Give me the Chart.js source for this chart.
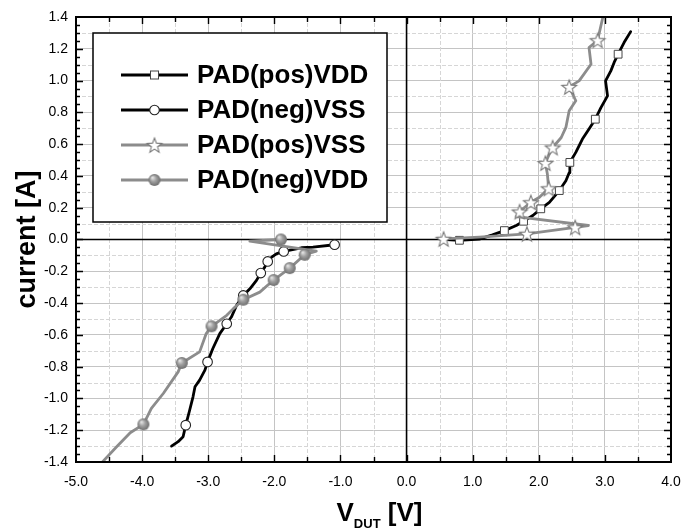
<!DOCTYPE html>
<html>
<head>
<meta charset="utf-8">
<script src="https://cdn.jsdelivr.net/npm/chart.js@4.4.0/dist/chart.umd.min.js"></script>
<style>
  html, body { margin: 0; padding: 0; background: #fff; }
  #wrap { width: 696px; height: 530px; }
</style>
</head>
<body>
<div id="wrap"><canvas id="ivChart" width="696" height="530"></canvas></div>
<script>
// === data: V_DUT [V] and current [A] ===
const posVddV = [0.60, 0.80, 1.10, 1.30, 1.48, 1.66, 1.77, 1.91, 2.03, 2.16, 2.31, 2.41, 2.46, 2.47, 2.56, 2.66, 2.76, 2.855, 2.94, 3.04, 3.01, 3.09, 3.14, 3.20, 3.29, 3.39];
const posVddI = [0.000, -0.005, 0.002, 0.029, 0.056, 0.088, 0.115, 0.151, 0.193, 0.234, 0.308, 0.370, 0.420, 0.485, 0.548, 0.632, 0.695, 0.757, 0.830, 0.904, 0.998, 1.061, 1.114, 1.166, 1.239, 1.308];
const posVddMarks = [1, 4, 6, 8, 10, 13, 17, 23];

const negVssV = [-1.088, -1.415, -1.59, -1.858, -1.97, -2.04, -2.10, -2.145, -2.205, -2.27, -2.37, -2.47, -2.57, -2.65, -2.72, -2.825, -2.93, -3.01, -3.05, -3.13, -3.20, -3.23, -3.28, -3.34, -3.38, -3.455, -3.555];
const negVssI = [-0.033, -0.048, -0.052, -0.075, -0.090, -0.111, -0.138, -0.174, -0.211, -0.257, -0.310, -0.352, -0.414, -0.488, -0.530, -0.592, -0.686, -0.770, -0.822, -0.885, -0.927, -0.990, -1.073, -1.168, -1.241, -1.272, -1.300];
const negVssMarks = [0, 3, 6, 8, 11, 14, 17, 23];

const posVssV = [0.56, 1.10, 1.82, 2.55, 2.75, 1.66, 1.71, 1.88, 2.01, 2.15, 2.13, 2.10, 2.16, 2.21, 2.34, 2.41, 2.46, 2.56, 2.46, 2.61, 2.79, 2.76, 2.89, 2.97];
const posVssI = [0.004, 0.015, 0.036, 0.077, 0.088, 0.144, 0.176, 0.234, 0.266, 0.322, 0.412, 0.481, 0.538, 0.579, 0.642, 0.705, 0.810, 0.873, 0.960, 0.998, 1.103, 1.207, 1.254, 1.400];
const posVssMarks = [0, 2, 3, 6, 7, 9, 11, 13, 18, 22];

const negVddV = [-1.90, -2.37, -1.365, -1.54, -1.767, -2.01, -2.22, -2.47, -2.62, -2.72, -2.95, -3.03, -3.13, -3.40, -3.455, -3.68, -3.86, -3.98, -4.18, -4.385, -4.61];
const negVddI = [0.000, -0.010, -0.073, -0.096, -0.180, -0.255, -0.331, -0.379, -0.435, -0.477, -0.546, -0.592, -0.707, -0.777, -0.833, -0.969, -1.063, -1.163, -1.216, -1.304, -1.404];
const negVddMarks = [0, 3, 4, 5, 7, 10, 13, 17];

const seriesLabels = ["PAD(pos)VDD", "PAD(neg)VSS", "PAD(pos)VSS", "PAD(neg)VDD"];
const xTickValues = [-5, -4, -3, -2, -1, 0, 1, 2, 3, 4];
const yTickValues = [-1.4, -1.2, -1.0, -0.8, -0.6, -0.4, -0.2, 0, 0.2, 0.4, 0.6, 0.8, 1.0, 1.2, 1.4];

const FONT = '"Liberation Sans", Arial, Helvetica, sans-serif';
const GRAY = "#8c8c8c";

function toPoints(xs, ys) {
  return xs.map((v, i) => ({ x: v, y: ys[i] }));
}

// white five-point star with gray outline
function makeStar(r) {
  const s = Math.ceil(r * 2 + 4);
  const c = document.createElement("canvas");
  c.width = c.height = s;
  const g = c.getContext("2d");
  g.translate(s / 2, s / 2 + 0.8);
  g.beginPath();
  for (let i = 0; i < 10; i++) {
    const rr = i % 2 ? r * 0.42 : r;
    const a = -Math.PI / 2 + i * Math.PI / 5;
    g.lineTo(rr * Math.cos(a), rr * Math.sin(a));
  }
  g.closePath();
  g.fillStyle = "#fff";
  g.fill();
  g.strokeStyle = "#777";
  g.lineWidth = 1.1;
  g.stroke();
  return c;
}

// shaded gray ball
function makeBall(r) {
  const s = Math.ceil(r * 2 + 2);
  const c = document.createElement("canvas");
  c.width = c.height = s;
  const g = c.getContext("2d");
  const cx = s / 2, cy = s / 2;
  const grad = g.createRadialGradient(cx - r * 0.35, cy - r * 0.4, r * 0.1, cx, cy, r);
  grad.addColorStop(0, "#e0e0e0");
  grad.addColorStop(0.45, "#a0a0a0");
  grad.addColorStop(1, "#6e6e6e");
  g.beginPath();
  g.arc(cx, cy, r, 0, Math.PI * 2);
  g.fillStyle = grad;
  g.fill();
  return c;
}

const starImg = makeStar(7.8);
const ballImg = makeBall(6);

function markAt(list, r) {
  return ctx => (list.includes(ctx.dataIndex) ? r : 0);
}

const datasets = [
  {
    label: seriesLabels[0],
    data: toPoints(posVddV, posVddI),
    borderColor: "#000", borderWidth: 2.8,
    pointStyle: "rect", pointRadius: markAt(posVddMarks, 5.5),
    pointBackgroundColor: "#fff", pointBorderColor: "#444", pointBorderWidth: 1,
    order: 2
  },
  {
    label: seriesLabels[1],
    data: toPoints(negVssV, negVssI),
    borderColor: "#000", borderWidth: 2.8,
    pointStyle: "circle", pointRadius: markAt(negVssMarks, 4.8),
    pointBackgroundColor: "#fff", pointBorderColor: "#222", pointBorderWidth: 1.1,
    order: 2
  },
  {
    label: seriesLabels[2],
    data: toPoints(posVssV, posVssI),
    borderColor: GRAY, borderWidth: 2.8,
    pointStyle: starImg, pointRadius: markAt(posVssMarks, 6),
    order: 1
  },
  {
    label: seriesLabels[3],
    data: toPoints(negVddV, negVddI),
    borderColor: GRAY, borderWidth: 2.8,
    pointStyle: ballImg, pointRadius: markAt(negVddMarks, 5),
    order: 1
  }
];
datasets.forEach(d => {
  d.showLine = true;
  d.tension = 0;
  d.fill = false;
  d.borderJoinStyle = "round";
  d.borderCapStyle = "round";
  d.pointHoverRadius = 0;
});

function fmt(v) {
  if (Math.abs(v) < 1e-9) return "0.0";
  return Number(v).toFixed(1);
}

// minor dashed grid, zero axes, inward ticks and the frame
const framePlugin = {
  id: "frame",
  beforeDatasetsDraw(chart) {
    const { ctx, chartArea: a, scales: { x, y } } = chart;
    ctx.save();
    ctx.strokeStyle = "#d6d6d6";
    ctx.lineWidth = 1;
    ctx.setLineDash([4, 2]);
    for (let k = 0; k < xTickValues.length - 1; k++) {
      const px = Math.round(x.getPixelForValue(xTickValues[k] + 0.5)) + 0.5;
      ctx.beginPath(); ctx.moveTo(px, a.top); ctx.lineTo(px, a.bottom); ctx.stroke();
    }
    for (let k = 0; k < yTickValues.length - 1; k++) {
      const py = Math.round(y.getPixelForValue(yTickValues[k] + 0.1)) + 0.5;
      ctx.beginPath(); ctx.moveTo(a.left, py); ctx.lineTo(a.right, py); ctx.stroke();
    }
    ctx.setLineDash([]);
    ctx.strokeStyle = "#000";
    ctx.lineWidth = 1.6;
    const x0 = x.getPixelForValue(0), y0 = y.getPixelForValue(0);
    ctx.beginPath(); ctx.moveTo(x0, a.top); ctx.lineTo(x0, a.bottom); ctx.stroke();
    ctx.beginPath(); ctx.moveTo(a.left, y0); ctx.lineTo(a.right, y0); ctx.stroke();
    ctx.restore();
  },
  afterDatasetsDraw(chart) {
    const { ctx, chartArea: a, scales: { x, y } } = chart;
    ctx.save();
    ctx.strokeStyle = "#000";
    ctx.lineWidth = 1.4;
    const xMin = xTickValues[0], yMin = yTickValues[0];
    const nx = (xTickValues.length - 1) * 2;
    for (let k = 1; k < nx; k++) {
      const px = Math.round(x.getPixelForValue(xMin + k * 0.5)) + 0.5;
      const len = k % 2 === 0 ? 7 : 5;
      ctx.beginPath();
      ctx.moveTo(px, a.bottom); ctx.lineTo(px, a.bottom - len);
      ctx.moveTo(px, a.top); ctx.lineTo(px, a.top + len);
      ctx.stroke();
    }
    const ny = (yTickValues.length - 1) * 4;
    for (let k = 1; k < ny; k++) {
      const py = Math.round(y.getPixelForValue(yMin + k * 0.05)) + 0.5;
      const len = k % 4 === 0 ? 7 : 4;
      ctx.beginPath();
      ctx.moveTo(a.left, py); ctx.lineTo(a.left + len, py);
      ctx.moveTo(a.right, py); ctx.lineTo(a.right - len, py);
      ctx.stroke();
    }
    ctx.lineWidth = 2;
    ctx.strokeRect(a.left, a.top, a.right - a.left, a.bottom - a.top);
    ctx.restore();
  }
};

// boxed legend inside the plot plus both axis titles
const legendPlugin = {
  id: "legendBox",
  afterDraw(chart) {
    const { ctx, chartArea: a } = chart;
    const bx = a.left + 17, by = a.top + 16, bw = 294, bh = 189;
    ctx.save();
    ctx.fillStyle = "#fff";
    ctx.fillRect(bx, by, bw, bh);
    ctx.strokeStyle = "#000";
    ctx.lineWidth = 1.5;
    ctx.strokeRect(bx, by, bw, bh);

    chart.data.datasets.forEach((ds, i) => {
      const yy = by + 42 + i * 35;
      const mx = bx + 61.5;
      ctx.strokeStyle = ds.borderColor;
      ctx.lineWidth = ds.borderWidth;
      ctx.beginPath(); ctx.moveTo(bx + 28, yy); ctx.lineTo(bx + 95, yy); ctx.stroke();
      const st = ds.pointStyle;
      if (typeof st === "object") {
        ctx.drawImage(st, mx - st.width / 2, yy - st.height / 2);
      } else if (st === "rect") {
        ctx.fillStyle = "#fff"; ctx.strokeStyle = ds.pointBorderColor; ctx.lineWidth = 1;
        ctx.fillRect(mx - 4, yy - 4, 8, 8); ctx.strokeRect(mx - 4, yy - 4, 8, 8);
      } else {
        ctx.fillStyle = "#fff"; ctx.strokeStyle = ds.pointBorderColor; ctx.lineWidth = 1.1;
        ctx.beginPath(); ctx.arc(mx, yy, 4.8, 0, Math.PI * 2); ctx.fill(); ctx.stroke();
      }
      ctx.fillStyle = "#000";
      ctx.font = "bold 26px " + FONT;
      ctx.textBaseline = "middle";
      ctx.textAlign = "left";
      ctx.fillText(ds.label, bx + 104, yy + 1);
    });

    // y title
    ctx.save();
    ctx.translate(28, (a.top + a.bottom) / 2);
    ctx.rotate(-Math.PI / 2);
    ctx.font = "bold 27px " + FONT;
    ctx.textAlign = "center";
    ctx.textBaseline = "middle";
    ctx.fillStyle = "#000";
    ctx.fillText("current [A]", 0, 0);
    ctx.restore();

    // x title with subscript
    ctx.fillStyle = "#000";
    ctx.textBaseline = "alphabetic";
    ctx.textAlign = "left";
    const big = "bold 26px " + FONT, small = "bold 13px " + FONT;
    ctx.font = big; const wV = ctx.measureText("V").width, wU = ctx.measureText(" [V]").width;
    ctx.font = small; const wS = ctx.measureText("DUT").width;
    let tx = (a.left + a.right) / 2 - (wV + wS + wU) / 2 + 6;
    ctx.font = big; ctx.fillText("V", tx, 521); tx += wV;
    ctx.font = small; ctx.fillText("DUT", tx, 528); tx += wS;
    ctx.font = big; ctx.fillText(" [V]", tx, 521);
    ctx.restore();
  }
};

const tickFont = { family: FONT, size: 14 };

new Chart(document.getElementById("ivChart"), {
  type: "scatter",
  data: { datasets: datasets },
  options: {
    responsive: false,
    animation: false,
    events: [],
    layout: { padding: { top: 17, right: 25, left: 0, bottom: 0 } },
    plugins: { legend: { display: false }, tooltip: { enabled: false } },
    scales: {
      x: {
        type: "linear",
        min: xTickValues[0],
        max: xTickValues[xTickValues.length - 1],
        afterFit(s) { s.height = 68; },
        afterBuildTicks(s) { s.ticks = xTickValues.map(v => ({ value: v })); },
        ticks: { padding: 12, font: tickFont, color: "#000", callback: fmt, maxRotation: 0, autoSkip: false },
        grid: { color: "#c4c4c4", lineWidth: 1, drawTicks: false },
        border: { display: false }
      },
      y: {
        type: "linear",
        min: yTickValues[0],
        max: yTickValues[yTickValues.length - 1],
        afterFit(s) { s.width = 76; },
        afterBuildTicks(s) { s.ticks = yTickValues.map(v => ({ value: v })); },
        ticks: { padding: 8, font: tickFont, color: "#000", callback: fmt, autoSkip: false },
        grid: { color: "#c4c4c4", lineWidth: 1, drawTicks: false },
        border: { display: false }
      }
    }
  },
  plugins: [framePlugin, legendPlugin]
});
</script>
</body>
</html>
